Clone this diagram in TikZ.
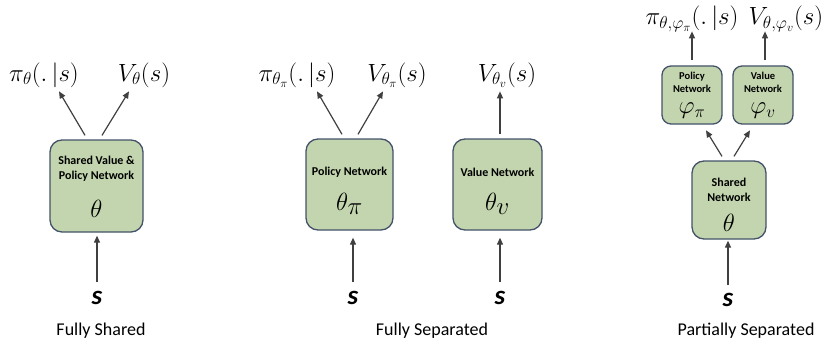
\documentclass[tikz,border=0pt]{standalone}
\usepackage{fontspec}
\setmainfont{Carlito}
\usetikzlibrary{arrows.meta}
\definecolor{boxfill}{HTML}{C3D5AE}
\definecolor{boxline}{HTML}{44536A}
\definecolor{arrgray}{HTML}{404040}
\tikzset{
  netbox/.style={draw=boxline, fill=boxfill, line width=1.3pt, rounded corners=12pt, inner sep=0pt},
  smallbox/.style={netbox, rounded corners=9pt},
  arr/.style={draw=arrgray, line width=1.2pt, -{Triangle[width=6pt,length=7pt]}},
  boxtxt/.style={font=\fontsize{12}{15}\selectfont\bfseries, inner sep=0pt, align=center},
  smalltxt/.style={font=\fontsize{10.5}{13}\selectfont\bfseries, inner sep=0pt, align=center},
  greek/.style={font=\fontsize{34}{36}\selectfont, inner sep=0pt},
  sgreek/.style={font=\fontsize{24}{26}\selectfont, inner sep=0pt},
  outlbl/.style={font=\fontsize{24}{26}\selectfont, inner sep=0pt},
  inlbl/.style={font=\fontsize{27}{29}\selectfont\bfseries\itshape, inner sep=0pt},
  caption/.style={font=\fontsize{18}{20}\selectfont, inner sep=0pt}
}
\begin{document}
\begin{tikzpicture}[x=1pt,y=-1pt]
\useasboundingbox (0,0) rectangle (824,345);
% ---------- Fully Shared ----------
\node[netbox, minimum width=93pt, minimum height=92pt] (b1) at (96.5,186) {};
\node[boxtxt] (b1t) at (96.5,169) {Shared Value \&\\Policy Network};
\node[greek] (b1g) at (96.5,209) {$\theta$};
\node[outlbl] (pi1) at (44,75) {$\pi_\theta(.\,|s)$};
\node[outlbl] (v1) at (144,75) {$V_\theta(s)$};
\node[inlbl] (s1) at (97,298) {s};
\node[caption] (c1) at (101,331) {Fully Shared};
\draw[arr] ([xshift=-11.5pt,yshift=4pt]b1.north) -- ([xshift=-37.5pt,yshift=48pt]b1.north);
\draw[arr] ([xshift=5.5pt,yshift=4pt]b1.north) -- ([xshift=32.5pt,yshift=48pt]b1.north);
\draw[arr] ([yshift=16pt]s1.center) -- ([xshift=0.5pt,yshift=-3pt]b1.south);
% ---------- Fully Separated ----------
\node[netbox, minimum width=87pt, minimum height=91pt] (b2) at (349.5,184.5) {};
\node[boxtxt] (b2t) at (349.5,172) {Policy Network};
\node[greek] (b2g) at (349.5,204) {$\theta_\pi$};
\node[netbox, minimum width=89pt, minimum height=91pt] (b3) at (497.5,184.5) {};
\node[boxtxt] (b3t) at (497.5,172) {Value Network};
\node[greek] (b3g) at (497.5,204) {$\theta_v$};
\node[outlbl] (pi2) at (297,75) {$\pi_{\theta_\pi}(.\,|s)$};
\node[outlbl] (v2) at (397,75) {$V_{\theta_\pi}(s)$};
\node[outlbl] (v3) at (507,75) {$V_{\theta_v}(s)$};
\node[inlbl] (s2) at (353,298) {s};
\node[inlbl] (s3) at (500,298) {s};
\node[caption] (c2) at (432,331) {Fully Separated};
\draw[arr] ([xshift=-7.5pt,yshift=4pt]b2.north) -- ([xshift=-32.5pt,yshift=47pt]b2.north);
\draw[arr] ([xshift=8.5pt,yshift=4pt]b2.north) -- ([xshift=33.5pt,yshift=47pt]b2.north);
\draw[arr] ([xshift=2.5pt,yshift=4pt]b3.north) -- ([xshift=2.5pt,yshift=47pt]b3.north);
\draw[arr] ([yshift=16pt]s2.center) -- ([xshift=3.5pt,yshift=-7pt]b2.south);
\draw[arr] ([yshift=16pt]s3.center) -- ([xshift=2.5pt,yshift=-7pt]b3.south);
% ---------- Partially Separated ----------
\node[netbox, minimum width=74pt, minimum height=78pt] (b4) at (729,200) {};
\node[boxtxt] (b4t) at (729,189.5) {Shared\\Network};
\node[greek] (b4g) at (729,223) {$\theta$};
\node[smallbox, minimum width=60pt, minimum height=58pt] (b5) at (692,95) {};
\node[smalltxt] (b5t) at (692,82.5) {Policy\\Network};
\node[sgreek] (b5g) at (692,111) {$\varphi_\pi$};
\node[smallbox, minimum width=60pt, minimum height=58pt] (b6) at (763,95) {};
\node[smalltxt] (b6t) at (763,82.5) {Value\\Network};
\node[sgreek] (b6g) at (763,111) {$\varphi_v$};
\node[outlbl] (pi4) at (692,19) {$\pi_{\theta,\varphi_\pi}(.\,|s)$};
\node[outlbl] (v4) at (786,19) {$V_{\theta,\varphi_v}(s)$};
\node[inlbl] (s4) at (728,300) {s};
\node[caption] (c3) at (746,331) {Partially Separated};
\draw[arr] ([yshift=5pt]b5.north) -- ([yshift=34pt]b5.north);
\draw[arr] ([xshift=2pt,yshift=5pt]b6.north) -- ([xshift=2pt,yshift=34pt]b6.north);
\draw[arr] ([xshift=-7pt,yshift=4pt]b4.north) -- ([xshift=-23pt,yshift=30pt]b4.north);
\draw[arr] ([xshift=5pt,yshift=4pt]b4.north) -- ([xshift=21pt,yshift=30pt]b4.north);
\draw[arr] ([yshift=15pt]s4.center) -- ([xshift=-1pt,yshift=-1pt]b4.south);
\end{tikzpicture}
\end{document}
